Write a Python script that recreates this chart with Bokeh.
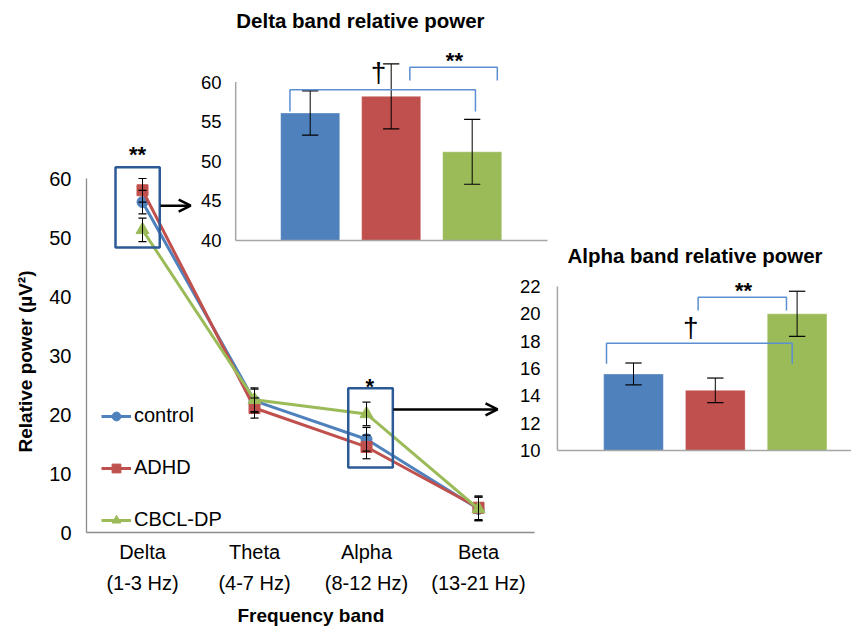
import math
from bokeh.plotting import figure
from bokeh.models import (Range1d, FixedTicker, Label, BoxAnnotation, Arrow, OpenHead,
                          Legend, LegendItem, Title)
from bokeh.core.properties import value
from bokeh.embed import file_html
from bokeh.resources import INLINE

# ---------------- data ----------------
bands = ["Delta\n(1-3 Hz)", "Theta\n(4-7 Hz)", "Alpha\n(8-12 Hz)", "Beta\n(13-21 Hz)"]
groups = ["control", "ADHD", "CBCL-DP"]
control = [56.0, 22.3, 15.8, 4.0]
adhd = [58.0, 21.1, 14.5, 4.2]
cbcl_dp = [51.3, 22.5, 20.1, 4.0]
control_err = [2.0, 2.0, 2.0, 2.0]
adhd_err = [2.0, 1.7, 2.0, 2.0]
cbcl_dp_err = [2.0, 2.0, 2.0, 2.0]
main_ticks = [0, 10, 20, 30, 40, 50, 60]

delta_means = [56.1, 58.2, 51.2]
delta_err = [2.8, 4.1, 4.1]
delta_ticks = [40, 45, 50, 55, 60]

alpha_means = [15.6, 14.4, 20.0]
alpha_err = [0.8, 0.9, 1.65]
alpha_ticks = [10, 12, 14, 16, 18, 20, 22]

# ---------------- styles / geometry ----------------
FONT = "Liberation Sans"
COLORS = ["#4F81BD", "#C0504D", "#9BBB59"]
MARKERS = ["circle", "square", "triangle"]
MSIZE = [11, 11, 13]
AXIS_GRAY = "#8C8C8C"
INSET_GRAY = "#A6A6A6"
BRACKET = "#5B8FD1"
BOX = "#2C5A97"

W, H = 851, 632
FL, FR, FT, FB = 86, 851, 0, 532   # frame edges in canvas px


def xr(px0, v0, ppu):
    return Range1d(v0 + (FL - px0) / ppu, v0 + (FR - px0) / ppu)


def yr(py0, v0, ppu):
    return Range1d(v0 - (FB - py0) / ppu, v0 + (py0 - FT) / ppu)


p = figure(width=W, height=H, x_range=xr(142, 0, 112), y_range=yr(532, 0, 5.9),
           output_backend="svg", toolbar_location=None,
           min_border_left=FL, min_border_right=0, min_border_top=0,
           min_border_bottom=H - FB, outline_line_color=None)
p.extra_x_ranges = {"delta": xr(309.7, 0, 81.0), "alpha": xr(633, 0, 81.8)}
p.extra_y_ranges = {"delta": yr(240, 40, 7.92), "alpha": yr(450, 10, 13.67)}
p.grid.visible = False
p.background_fill_color = "white"
p.border_fill_color = "white"

# ---- main axes ----
xa = p.xaxis[0]
xa.ticker = FixedTicker(ticks=list(range(len(bands))))
xa.major_label_overrides = {i: b for i, b in enumerate(bands)}
xa.bounds = (-0.5, len(bands) - 0.5)
ya = p.yaxis[0]
ya.ticker = FixedTicker(ticks=main_ticks)
ya.bounds = (main_ticks[0], main_ticks[-1])
for ax in (xa, ya):
    ax.axis_line_color = AXIS_GRAY
    ax.axis_line_width = 1.3
    ax.major_tick_line_color = None
    ax.minor_tick_line_color = None
    ax.major_tick_out = 0
    ax.major_tick_in = 0
    ax.major_label_text_font = FONT
    ax.major_label_text_font_size = "20px"
    ax.major_label_text_color = "black"
xa.major_label_standoff = 8
xa.major_label_text_line_height = 1.45
ya.major_label_standoff = 15

# axis titles (side titles, shifted along the side like the reference)
p.add_layout(Title(text="Frequency band", align="left", offset=151, standoff=11,
                   text_color="black", text_font=FONT, text_font_size="19px",
                   text_font_style="bold"), "below")
p.add_layout(Title(text="Relative power (\u00b5V\u00b2)", align="left", offset=80, standoff=21,
                   text_color="black", text_font=FONT, text_font_size="19px",
                   text_font_style="bold"), "left")

# ---- main series ----
xs = list(range(len(bands)))
series = [control, adhd, cbcl_dp]
errs = [control_err, adhd_err, cbcl_dp_err]
items = []
for name, vals, col, mk, ms in zip(groups, series, COLORS, MARKERS, MSIZE):
    lr = p.line(xs, vals, line_color=col, line_width=3)
    sr = p.scatter(xs, vals, marker=mk, size=ms, fill_color=col, line_color=col)
    items.append(LegendItem(label=name, renderers=[lr, sr]))

cw = 0.036
for vals, er in zip(series, errs):
    lo = [v - e for v, e in zip(vals, er)]
    hi = [v + e for v, e in zip(vals, er)]
    p.segment(xs, lo, xs, hi, line_color="black", line_width=1)
    p.segment([x - cw for x in xs], lo, [x + cw for x in xs], lo, line_color="black", line_width=1.2)
    p.segment([x - cw for x in xs], hi, [x + cw for x in xs], hi, line_color="black", line_width=1.2)

legend = Legend(items=items, location=(15, 1), padding=0, margin=0, border_line_color=None,
                background_fill_alpha=0, glyph_width=30, glyph_height=22, label_height=22,
                label_standoff=3, spacing=29, label_text_font=FONT, label_text_font_size="20px",
                label_text_color="black")
p.add_layout(legend)

# highlight boxes, stars, arrows
p.add_layout(BoxAnnotation(left=-0.241, right=0.154, bottom=48.3, top=61.9, fill_alpha=0,
                           line_color=BOX, line_alpha=1, line_width=2.5))
p.add_layout(BoxAnnotation(left=1.837, right=2.235, bottom=11.0, top=24.46, fill_alpha=0,
                           line_color=BOX, line_alpha=1, line_width=2.5))
p.add_layout(Label(x=-0.045, y=64.05, text="**", text_align="center", text_baseline="alphabetic",
                   text_color="black", text_font=FONT, text_font_size="22px",
                   text_font_style="bold"))
p.add_layout(Label(x=2.03, y=24.8, text="*", text_align="center", text_baseline="alphabetic",
                   text_color="black", text_font=FONT, text_font_size="22px",
                   text_font_style="bold"))
p.add_layout(Arrow(end=OpenHead(size=12, line_width=2.5, line_color="black"),
                   x_start=0.16, y_start=55.4, x_end=0.43, y_end=55.4,
                   line_width=2.5, line_color="black"))
p.add_layout(Arrow(end=OpenHead(size=12, line_width=2.5, line_color="black"),
                   x_start=2.24, y_start=20.85, x_end=3.17, y_end=20.85,
                   line_width=2.5, line_color="black"))


# ---------------- inset bar charts ----------------
def inset(rn, means, err, ticks, x_left, x_right, label_x, cap, title, title_xy,
          brackets, dagger_xy, stars_xy):
    kw = dict(x_range_name=rn, y_range_name=rn)
    bx = list(range(len(means)))
    base = ticks[0]
    p.vbar(x=bx, top=means, bottom=base, width=0.73, fill_color=COLORS,
           line_color="white", line_alpha=0.35, line_width=1, **kw)
    # axes
    p.segment([x_left], [ticks[0]], [x_left], [ticks[-1]], line_color=INSET_GRAY, line_width=1.5, **kw)
    p.segment([x_left], [base], [x_right], [base], line_color=INSET_GRAY, line_width=1.5, **kw)
    p.text(x=[label_x] * len(ticks), y=ticks, text=[str(t) for t in ticks], text_align="right",
           text_baseline="middle", text_font=value(FONT), text_font_size="18.5px",
           text_color="black", **kw)
    # error bars
    lo = [m - e for m, e in zip(means, err)]
    hi = [m + e for m, e in zip(means, err)]
    p.segment(bx, lo, bx, hi, line_color="black", line_width=1, **kw)
    p.segment([x - cap for x in bx], lo, [x + cap for x in bx], lo, line_color="black", line_width=1.2, **kw)
    p.segment([x - cap for x in bx], hi, [x + cap for x in bx], hi, line_color="black", line_width=1.2, **kw)
    # significance brackets
    p.multi_line([[a, a, b, b] for a, b, t, l in brackets],
                 [[l, t, t, l] for a, b, t, l in brackets],
                 line_color=BRACKET, line_width=1.5, **kw)
    p.add_layout(Label(x=dagger_xy[0], y=dagger_xy[1], text="\u2020", text_align="center",
                       text_baseline="middle", text_color="black", text_font=FONT,
                       text_font_size="28px", **kw))
    p.add_layout(Label(x=stars_xy[0], y=stars_xy[1], text="**", text_align="center",
                       text_baseline="alphabetic", text_color="black", text_font=FONT,
                       text_font_size="22px", text_font_style="bold", **kw))
    p.add_layout(Label(x=title_xy[0], y=title_xy[1], text=title, text_align="center",
                       text_baseline="middle", text_color="black", text_font=FONT,
                       text_font_size="20.5px", text_font_style="bold", **kw))


inset("delta", delta_means, delta_err, delta_ticks, -0.92, 2.93, -1.095, 0.1,
      "Delta band relative power", (0.62, 67.8),
      [(-0.25, 2.04, 59.03, 56.3), (1.23, 2.31, 61.88, 60.2)],
      (0.843, 61.2), (1.78, 62.7))
inset("alpha", alpha_means, alpha_err, alpha_ticks, -0.93, 2.75, -1.137, 0.1,
      "Alpha band relative power", (0.752, 24.26),
      [(-0.33, 1.94, 17.85, 16.34), (0.79, 1.87, 21.21, 20.24)],
      (0.70, 19.0), (1.345, 21.7))

open("out.html", "w").write(file_html(p, INLINE))
